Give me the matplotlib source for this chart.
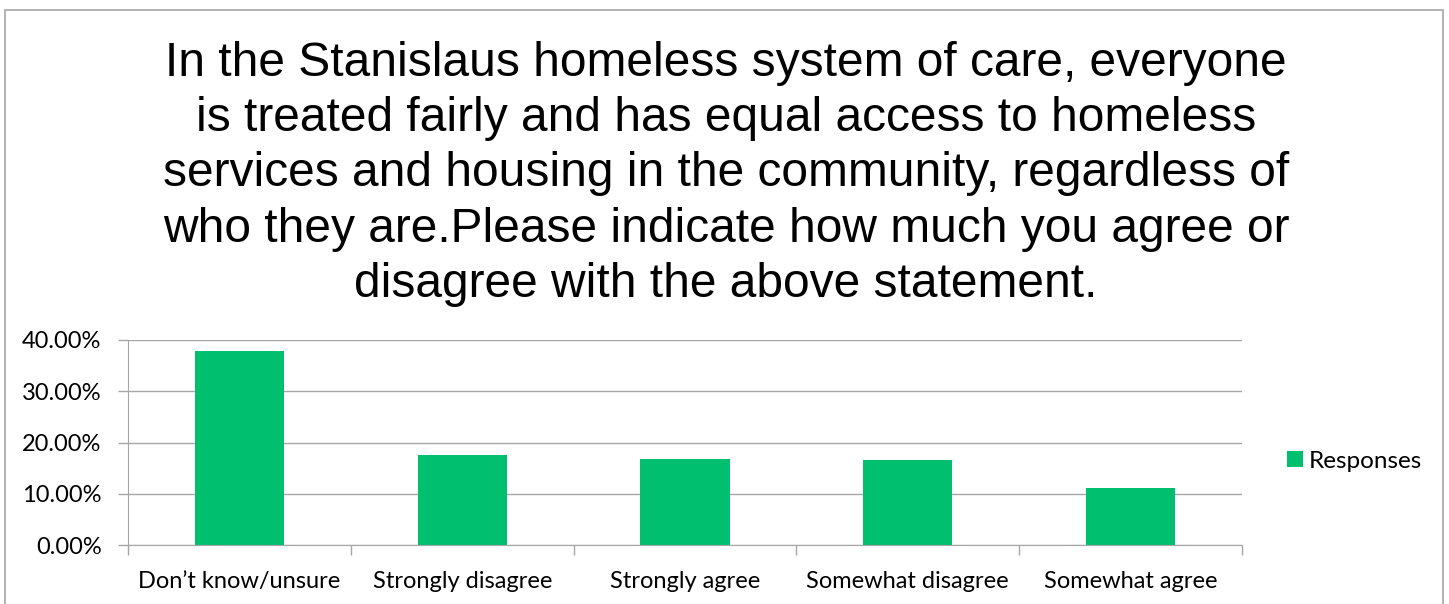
import numpy as np
import matplotlib.pyplot as plt
from matplotlib.patches import Rectangle
from matplotlib.ticker import FuncFormatter

# Survey responses (share of respondents)
categories = ["Don\u2019t know/unsure", "Strongly disagree", "Strongly agree",
              "Somewhat disagree", "Somewhat agree"]
responses = [0.379, 0.1755, 0.1677, 0.1657, 0.111]
y_ticks = [0.0, 0.1, 0.2, 0.3, 0.4]

title = ("In the Stanislaus homeless system of care, everyone\n"
         "is treated fairly and has equal access to homeless\n"
         "services and housing in the community, regardless of\n"
         "who they are.Please indicate how much you agree or\n"
         "disagree with the above statement.")

W, H = 1449, 604
fig = plt.figure(figsize=(W / 100, H / 100), dpi=100)

# outer chart frame
fig.patches.append(Rectangle((5 / W, -0.01), (1443 - 5) / W, (H - 10) / H + 0.01,
                             transform=fig.transFigure, fill=False,
                             edgecolor='#a6a6a6', linewidth=1.2))

fig.text(726 / W, 1 - 174 / H, title, ha='center', va='center',
         fontsize=34.5, family='Liberation Sans', linespacing=1.29)

ax = fig.add_axes([128 / W, (H - 545) / H, (1242 - 128) / W, (545 - 340) / H])
x = np.arange(len(categories))
ax.bar(x, responses, width=0.4, color='#00bf6f', label='Responses', zorder=2)
ax.set_xlim(-0.5, len(categories) - 0.5)
ax.set_ylim(0, 0.4)
ax.set_yticks(y_ticks)
ax.yaxis.set_major_formatter(FuncFormatter(lambda v, p: '%.2f%%' % (v * 100)))
ax.set_xticks(x)
ax.set_xticklabels(categories)
ax.set_xticks(np.arange(-0.5, len(categories)), minor=True)
ax.tick_params(axis='x', which='major', length=0, pad=19)
ax.tick_params(axis='x', which='minor', length=7, color='#a6a6a6', width=1)
ax.tick_params(axis='y', length=7, color='#a6a6a6', width=1, pad=12)
for lab in ax.get_xticklabels() + ax.get_yticklabels():
    lab.set_fontsize(17)
    lab.set_family('Lato')
ax.grid(axis='y', color='#a6a6a6', linewidth=1, zorder=0)
for s in ['top', 'right']:
    ax.spines[s].set_visible(False)
ax.spines['left'].set_color('#a6a6a6')
ax.spines['bottom'].set_color('#a6a6a6')

leg = fig.legend(loc='center left', bbox_to_anchor=(1265 / W, 1 - 461 / H),
                 frameon=False, handlelength=0.65, handleheight=0.65,
                 handletextpad=0.25, prop={'family': 'Lato', 'size': 17.5})

plt.savefig('out.png', dpi=100)
